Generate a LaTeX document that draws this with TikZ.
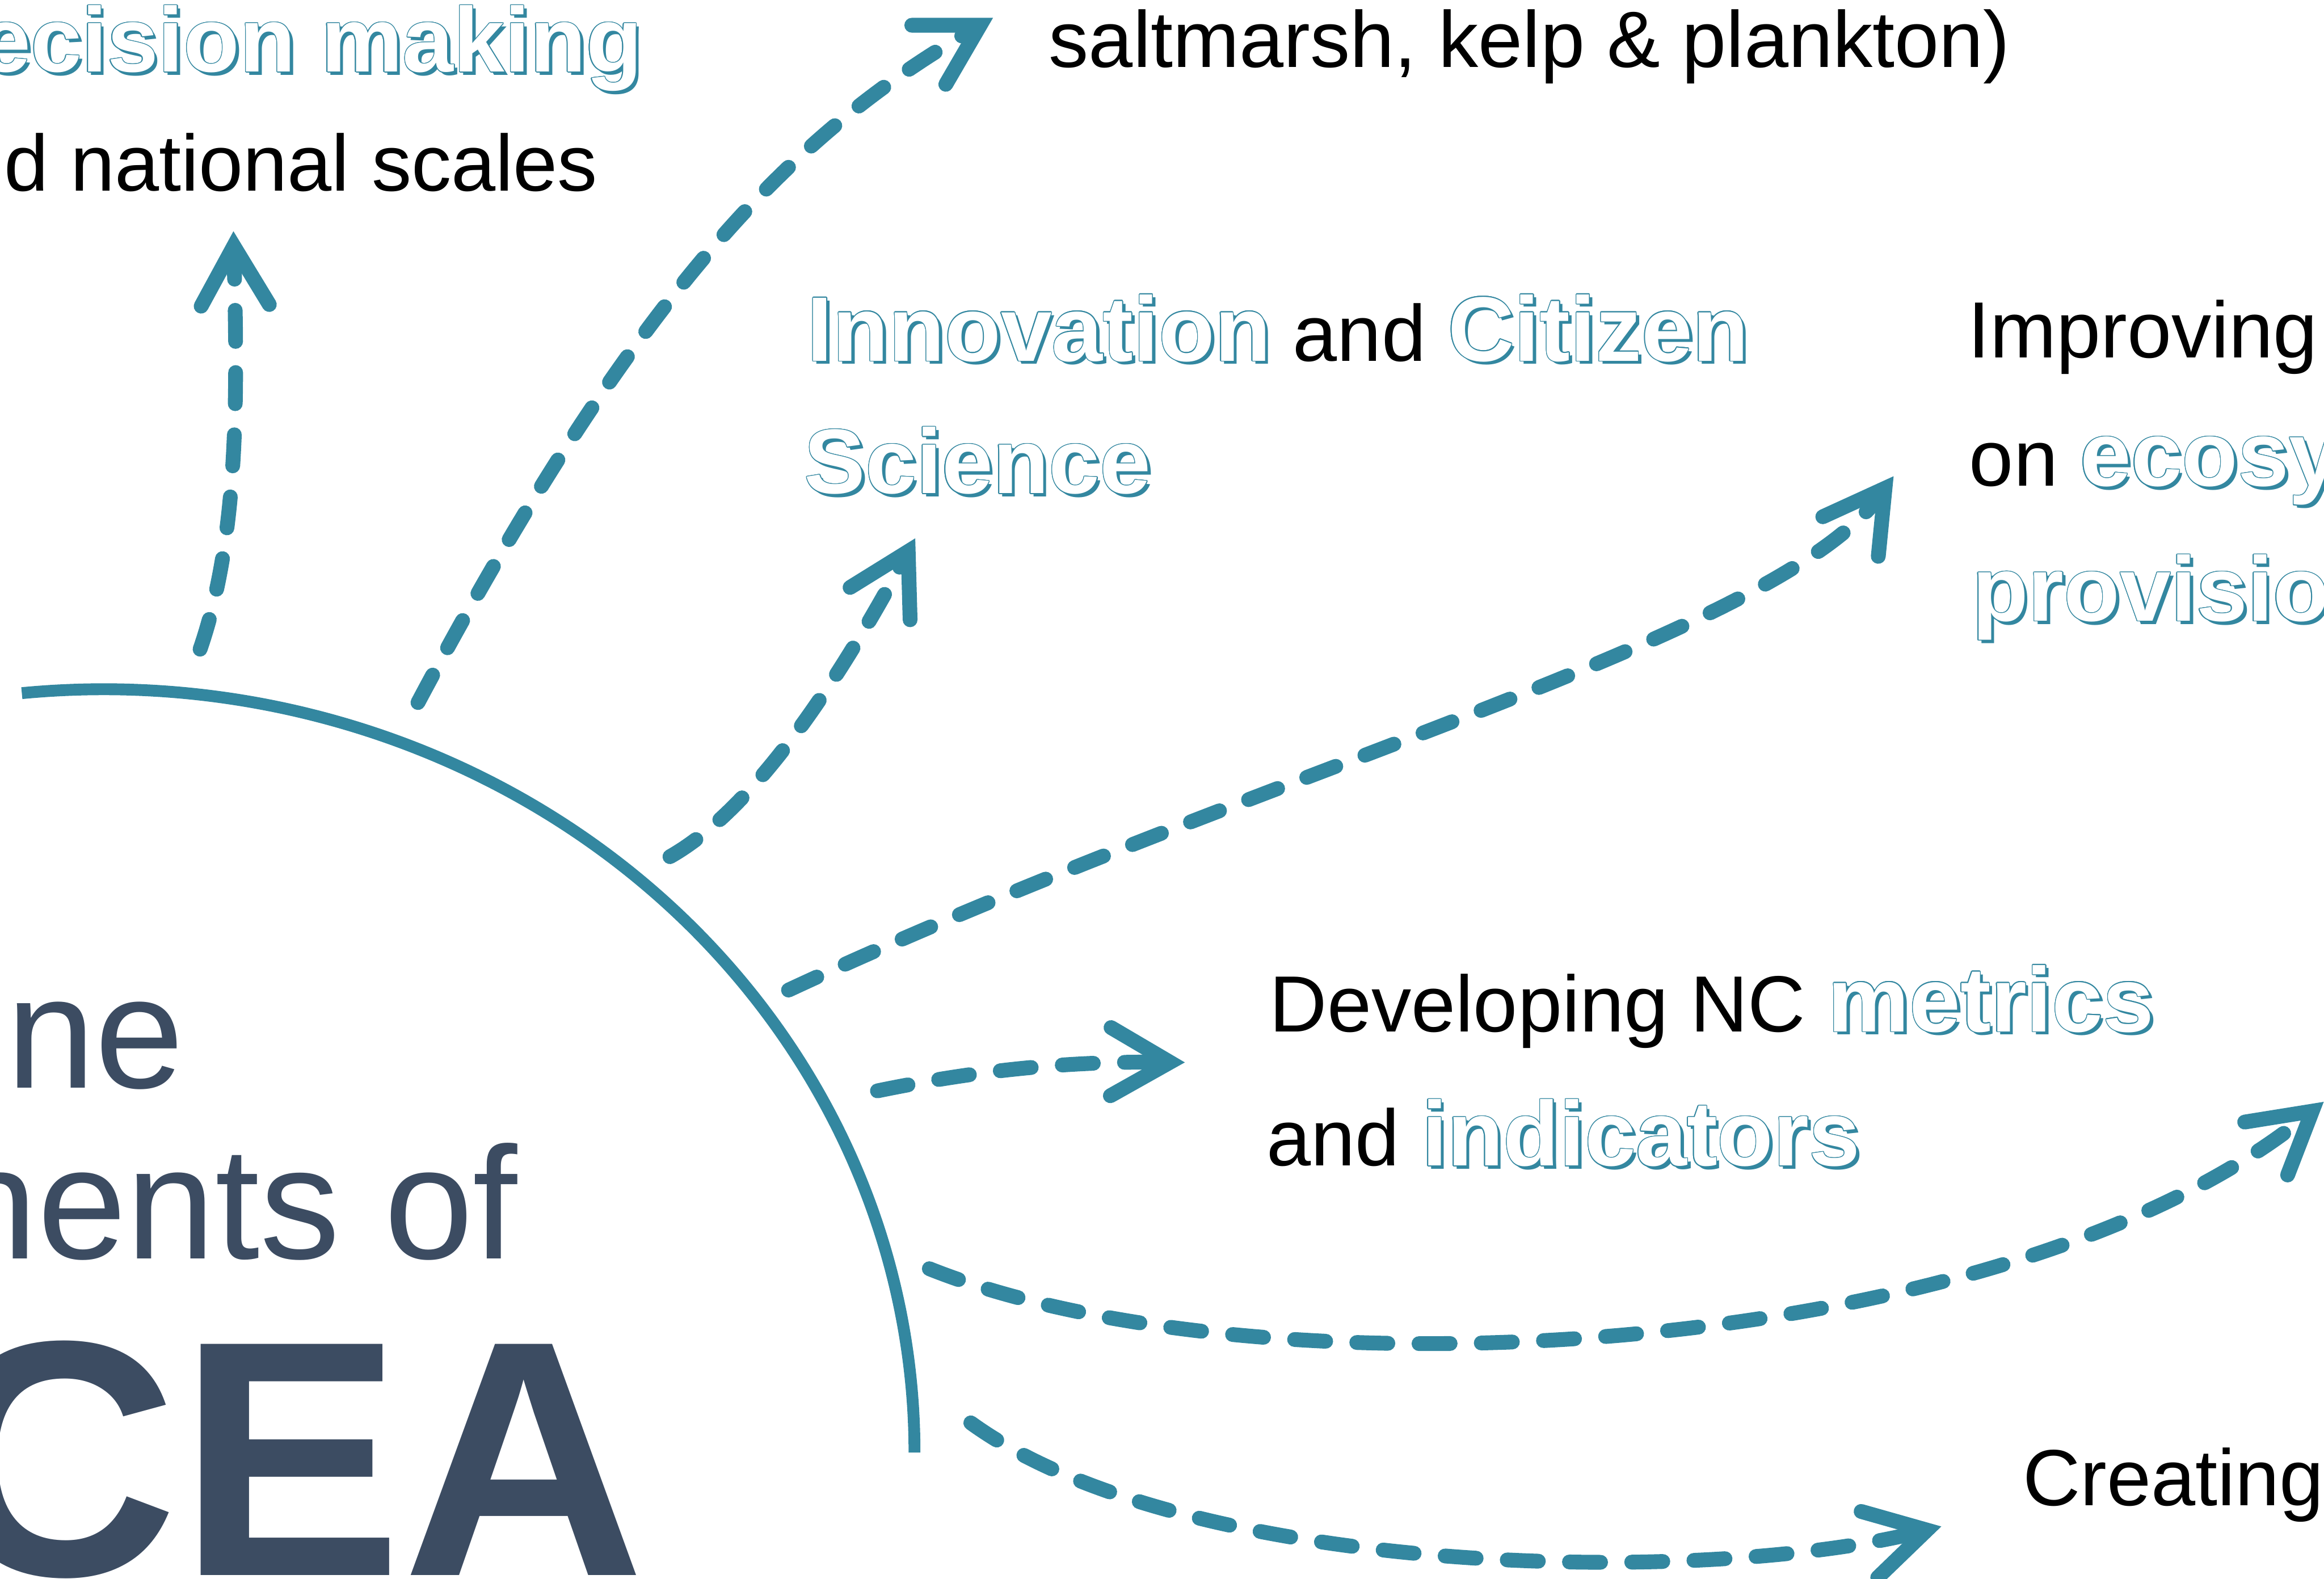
\documentclass[tikz,border=0pt]{standalone}
\usepackage{fontspec}
\setmainfont{Liberation Sans}
\usepackage{contour}
\usetikzlibrary{arrows.meta}
\definecolor{ncteal}{RGB}{51,135,160}
\definecolor{ncslate}{RGB}{60,76,98}
\contourlength{0.15pt}
\contournumber{16}
% outlined keyword with a small drop shadow
\newcommand{\kw}[1]{{\fontsize{17.6}{25}\selectfont\bfseries\rlap{\kern0.22mm\raisebox{-0.22mm}{\textcolor{ncteal}{#1}}}{\color{white}\contour{ncteal}{#1}}}}
\tikzstyle{textline} = [anchor=base west, inner sep=0pt, font=\fontsize{15.3}{25}\selectfont]
\tikzstyle{heading} = [anchor=base east, inner sep=0pt, text=ncslate, font=\fontsize{30.7}{33}\selectfont]
\tikzstyle{rim} = [ncteal, line width=0.8mm]
\tikzstyle{arrow} = [ncteal, line width=1mm, line cap=round, dash pattern=on 2.1mm off 2.1mm, -{Straight Barb[length=4mm, width=4.6mm, line cap=round, line join=miter]}]

\begin{document}
\begin{tikzpicture}
    \useasboundingbox (0,0) rectangle (15.68,-10.65);
    \clip (0,0) rectangle (15.68,-10.65);

    % title on the left
    \node (nine) [heading] at (1.25,-7.34) {ne};
    \node (elem) [heading] at (3.50,-8.494) {nents of};
    \node (cea) [heading, font=\fontsize{64.5}{66}\selectfont\bfseries] at (4.36,-10.63) {CEA};

    % outcomes
    \node (decide) [textline, anchor=base east] at (4.34,-0.485) {\kw{ecision making}};
    \node (scales) [textline] at (0.02,-1.29) {d national scales};
    \node (blue) [textline] at (7.07,-0.455) {saltmarsh, kelp \& plankton)};
    \node (innov) [textline] at (5.44,-2.435) {\kw{Innovation} and \kw{Citizen}};
    \node (sci) [textline] at (5.42,-3.33) {\kw{Science}};
    \node (impr) [textline] at (13.27,-2.414) {Improving};
    \node (ecos) [textline] at (13.28,-3.28) {on \kw{ecosy}};
    \node (prov) [textline] at (13.30,-4.19) {\kw{provisio}};
    \node (metr) [textline] at (8.56,-6.96) {Developing NC \kw{metrics}};
    \node (indic) [textline] at (8.54,-7.866) {and \kw{indicators}};
    \node (creat) [textline] at (13.64,-10.157) {Creating};

    % the rim
    \draw [rim] (0.70,-9.80) ++(95.8:5.47 and 5.15) arc [start angle=95.8, end angle=0, x radius=5.47, y radius=5.15];

    \coordinate (s1) at (1.35,-4.38);   \coordinate (t1) at (1.575,-1.56);
    \coordinate (s2) at (2.82,-4.74);   \coordinate (t2) at (6.70,-0.12);
    \coordinate (s3) at (4.52,-5.78);   \coordinate (t3) at (6.175,-3.632);
    \coordinate (s4) at (5.32,-6.68);   \coordinate (t4) at (12.776,-3.213);
    \coordinate (s5) at (5.92,-7.36);   \coordinate (t5) at (7.994,-7.168);
    \coordinate (s6) at (6.27,-8.56);   \coordinate (t6) at (15.678,-7.434);
    \coordinate (s7) at (6.55,-9.60);   \coordinate (t7) at (13.098,-10.299);

    \draw [arrow] (s1) .. controls (1.62,-3.60) and (1.60,-2.60) .. (t1);
    \draw [arrow] (s2) .. controls (4.32,-1.92) and (5.38,-0.88) .. (t2);
    \draw [arrow] (s3) .. controls (5.05,-5.48) and (5.60,-4.70) .. (t3);
    \draw [arrow] (s4) .. controls (8.50,-5.20) and (12.00,-4.30) .. (t4);
    \draw [arrow] (s5) .. controls (6.60,-7.22) and (7.20,-7.16) .. (t5);
    \draw [arrow] (s6) .. controls (8.50,-9.45) and (13.50,-9.20) .. (t6);
    \draw [arrow] (s7) .. controls (8.00,-10.65) and (11.50,-10.70) .. (t7);
\end{tikzpicture}
\end{document}
